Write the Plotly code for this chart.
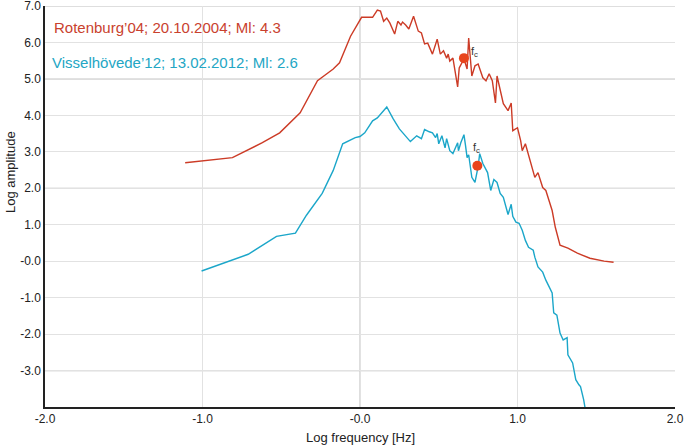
import plotly.graph_objects as go

# Rotenburg'04 spectrum (log frequency, log amplitude)
rot_x = [-1.11, -0.81, -0.62, -0.51, -0.38, -0.27, -0.17, -0.13, -0.06, 0.01, 0.08, 0.11, 0.13, 0.15,
         0.17, 0.19, 0.22, 0.24, 0.26, 0.27, 0.29, 0.31, 0.34, 0.37, 0.39, 0.41, 0.43, 0.45, 0.46,
         0.49, 0.51, 0.53, 0.55, 0.56, 0.57, 0.59, 0.62, 0.63, 0.66, 0.68, 0.69, 0.71, 0.73, 0.75,
         0.78, 0.80, 0.82, 0.84, 0.86, 0.87, 0.89, 0.91, 0.94, 0.96, 0.97, 1.00, 1.02, 1.03, 1.05,
         1.07, 1.10, 1.11, 1.13, 1.16, 1.18, 1.20, 1.21, 1.22, 1.24, 1.27, 1.32, 1.38, 1.46, 1.55, 1.61]
rot_y = [2.70, 2.84, 3.25, 3.52, 4.07, 4.95, 5.27, 5.44, 6.17, 6.69, 6.69, 6.89, 6.86, 6.58,
         6.67, 6.53, 6.23, 6.58, 6.48, 6.56, 6.48, 6.37, 6.72, 6.31, 6.26, 5.96, 5.98, 5.77, 5.68,
         6.09, 5.68, 5.77, 5.57, 5.68, 5.49, 5.57, 4.78, 5.30, 5.55, 5.27, 6.12, 5.08, 5.36, 5.41,
         5.03, 4.95, 5.14, 4.95, 4.34, 5.08, 4.67, 4.32, 4.13, 4.34, 3.58, 3.66, 3.31, 3.03, 3.22,
         2.90, 2.49, 2.30, 2.43, 2.02, 1.94, 1.67, 1.48, 1.39, 0.93, 0.44, 0.36, 0.22, 0.08, 0.00, -0.03]

# Visselhövede'12 spectrum
vis_x = [-1.006, -0.71, -0.53, -0.41, -0.34, -0.24, -0.17, -0.11, -0.03, 0.00, 0.03, 0.08, 0.11, 0.17,
         0.21, 0.25, 0.32, 0.34, 0.36, 0.39, 0.41, 0.44, 0.46, 0.48, 0.49, 0.50, 0.52, 0.54, 0.55,
         0.57, 0.59, 0.62, 0.625, 0.64, 0.66, 0.67, 0.68, 0.69, 0.71, 0.73, 0.75, 0.76, 0.78, 0.81,
         0.83, 0.85, 0.87, 0.89, 0.91, 0.94, 0.96, 0.97, 0.99, 1.01, 1.03, 1.05, 1.07, 1.10, 1.11,
         1.13, 1.16, 1.18, 1.20, 1.22, 1.23, 1.25, 1.27, 1.29, 1.315, 1.32, 1.35, 1.37, 1.39, 1.40,
         1.42, 1.43]
vis_y = [-0.27, 0.19, 0.68, 0.77, 1.26, 1.86, 2.49, 3.22, 3.39, 3.42, 3.52, 3.85, 3.93, 4.23,
         3.91, 3.63, 3.28, 3.36, 3.44, 3.36, 3.61, 3.55, 3.52, 3.39, 3.50, 3.22, 3.44, 3.11, 3.36,
         3.03, 2.95, 3.25, 3.03, 3.25, 3.47, 3.17, 2.84, 2.92, 2.30, 2.16, 2.60, 2.95, 2.68, 2.43,
         1.94, 2.24, 2.16, 1.86, 1.75, 1.28, 1.56, 1.23, 1.07, 1.04, 0.85, 0.57, 0.38, 0.30, 0.11,
         -0.16, -0.30, -0.52, -0.71, -0.87, -1.42, -1.48, -1.97, -2.16, -2.10, -2.57, -2.79, -3.25, -3.39, -3.44,
         -3.80, -4.05]

# corner frequencies
fc_x = [0.66, 0.745]
fc_y = [5.57, 2.62]

series_names = ["Rotenburg\u201904; 20.10.2004; Ml: 4.3", "Visselh\u00f6vede\u201912; 13.02.2012; Ml: 2.6"]

x_ticks = [-2, -1, 0, 1, 2]
x_ticklabels = ["-2.0", "-1.0", "-0.0", "1.0", "2.0"]
y_ticks = [7, 6, 5, 4, 3, 2, 1, 0, -1, -2, -3]
y_ticklabels = ["7.0", "6.0", "5.0", "4.0", "3.0", "2.0", "1.0", "-0.0", "-1.0", "-2.0", "-3.0"]

RED = "#cc3b26"
CYAN = "#1ba6c9"
DOT = "#e8441c"
FONT = "Liberation Sans, Arial, sans-serif"

W, H = 685, 446
ML, MR, MT, MB = 45, 10, 6, 39
PLOT_H = H - MT - MB

fig = go.Figure()
fig.add_trace(go.Scatter(x=rot_x, y=rot_y, mode="lines", line=dict(color=RED, width=1.4),
                         showlegend=False, hoverinfo="skip"))
fig.add_trace(go.Scatter(x=vis_x, y=vis_y, mode="lines", line=dict(color=CYAN, width=1.4),
                         showlegend=False, hoverinfo="skip"))
fig.add_trace(go.Scatter(x=fc_x, y=fc_y, mode="markers", marker=dict(color=DOT, size=10),
                         showlegend=False, hoverinfo="skip"))

# darker grid lines
for yv in [7, 5, 2, -3]:
    fig.add_shape(type="line", xref="paper", x0=0, x1=1, yref="y", y0=yv, y1=yv,
                  line=dict(color="#bdbdbd", width=1.2), layer="below")
fig.add_shape(type="line", xref="x", x0=0, x1=0, yref="paper", y0=0, y1=1,
              line=dict(color="#c8c8c8", width=1.2), layer="below")

annotations = [
    dict(x=-1.955, y=6.40, xref="x", yref="y", text=series_names[0], showarrow=False,
         xanchor="left", yanchor="middle", font=dict(size=15, color="#c9412e", family=FONT)),
    dict(x=-1.97, y=5.45, xref="x", yref="y", text=series_names[1], showarrow=False,
         xanchor="left", yanchor="middle", font=dict(size=15, color="#23a6c4", family=FONT)),
    dict(x=fc_x[0] + 0.065, y=fc_y[0] + 0.16, xref="x", yref="y", text="f<sub>c</sub>", showarrow=False,
         xanchor="center", yanchor="middle", font=dict(size=11, color="#333333", family=FONT)),
    dict(x=fc_x[1] - 0.005, y=fc_y[1] + 0.48, xref="x", yref="y", text="f<sub>c</sub>", showarrow=False,
         xanchor="center", yanchor="middle", font=dict(size=11, color="#333333", family=FONT)),
    dict(x=(10 - ML) / (W - ML - MR), y=(H - MB - 172) / PLOT_H, xref="paper", yref="paper",
         xanchor="center", yanchor="middle",
         text="Log amplitude", showarrow=False, textangle=-90,
         font=dict(size=13, color="#222222", family=FONT)),
    dict(x=0.5, y=(H - MB - 437) / PLOT_H, xref="paper", yref="paper",
         xanchor="center", yanchor="middle",
         text="Log frequency [Hz]", showarrow=False,
         font=dict(size=13, color="#222222", family=FONT)),
]

fig.update_layout(
    width=W, height=H,
    margin=dict(l=ML, r=MR, t=MT, b=MB),
    paper_bgcolor="white", plot_bgcolor="white",
    font=dict(family=FONT, size=12, color="#222222"),
    annotations=annotations,
    xaxis=dict(range=[-2, 2], tickvals=x_ticks, ticktext=x_ticklabels, showgrid=True,
               gridcolor="#e2e2e2", gridwidth=1, zeroline=False, showline=True,
               linecolor="#222222", linewidth=1.5, ticks="", ticklabeloverflow="allow",
               automargin=False, tickfont=dict(size=12)),
    yaxis=dict(range=[-4, 7], tickvals=y_ticks, ticktext=y_ticklabels, showgrid=True,
               gridcolor="#e2e2e2", gridwidth=1, zeroline=False, showline=True,
               linecolor="#222222", linewidth=1.5, ticks="", ticklabeloverflow="allow",
               automargin=False, tickfont=dict(size=12)),
)

fig.write_html("out.html", config={"displayModeBar": False},
               post_script="document.body.style.margin='0';document.body.style.overflow='hidden';")
